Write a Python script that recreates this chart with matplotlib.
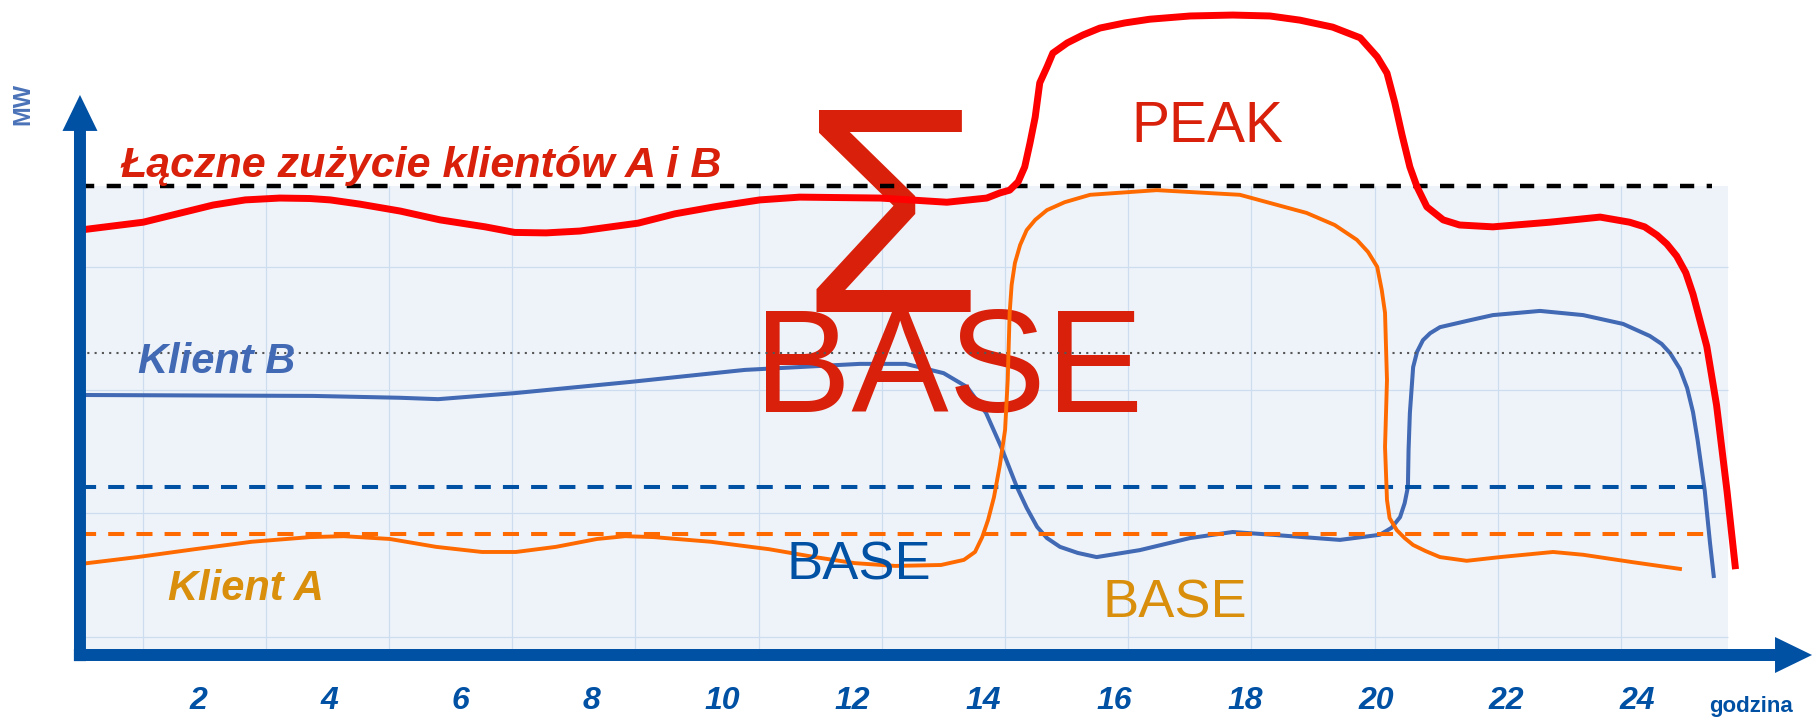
import matplotlib
matplotlib.use('Agg')
import matplotlib.pyplot as plt
import numpy as np
from matplotlib import font_manager
from matplotlib.patches import Rectangle, FancyArrow

# values: hour of day / MW
red_h = [0.18, 1.15, 2.22, 2.71, 3.24, 3.70, 4.01, 4.46, 5.08, 5.69, 6.38, 6.83, 7.31, 7.83,
         8.72, 9.28, 9.88, 10.58, 11.19, 12.42, 13.44, 14.05, 14.25, 14.40, 14.53, 14.63,
         14.71, 14.79, 14.86, 14.97, 15.06, 15.28, 15.52, 15.78, 16.16, 16.54, 17.16, 17.81,
         18.38, 18.84, 19.34, 19.76, 20.02, 20.17, 20.29, 20.40, 20.52, 20.63, 20.78, 21.03,
         21.28, 21.79, 22.66, 23.43, 23.88, 24.11, 24.30, 24.45, 24.60, 24.74, 24.85, 25.06,
         25.21, 25.37, 25.50]
red_mw = [90.4, 92.1, 95.8, 96.9, 97.3, 97.2, 96.9, 96.0, 94.5, 92.6, 91.1, 89.9, 89.8, 90.2,
          91.9, 93.9, 95.4, 96.9, 97.5, 97.3, 96.4, 97.3, 98.4, 99.0, 100.8, 104.0,
          109.1, 114.7, 122.1, 125.5, 128.5, 130.7, 132.4, 133.9, 135.0, 135.8, 136.5, 136.7,
          136.5, 135.6, 134.1, 131.8, 127.7, 124.2, 117.8, 110.9, 104.0, 99.7, 95.4, 92.6,
          91.5, 91.1, 92.1, 93.2, 92.1, 91.1, 89.3, 87.4, 84.8, 81.2, 76.6, 65.4,
          52.7, 34.2, 17.4]

blue_h = [0.18, 3.75, 5.08, 5.66, 6.83, 8.59, 10.35, 12.11, 12.81, 13.39, 13.75, 14.04,
          14.27, 14.51, 14.66, 14.82, 14.97, 15.17, 15.44, 15.73, 16.39, 17.16, 17.81, 18.42,
          19.45, 20.06, 20.24, 20.37, 20.44, 20.49, 20.50, 20.52, 20.57, 20.63, 20.72, 20.83,
          20.98, 21.44, 21.79, 22.51, 23.17, 23.78, 24.19, 24.37, 24.50, 24.65, 24.76, 24.85,
          24.92, 25.03, 25.11, 25.17]
blue_mw = [54.9, 54.7, 54.3, 54.0, 55.3, 57.7, 60.3, 61.6, 61.6, 59.6, 56.6, 51.0,
           43.7, 35.1, 30.6, 26.5, 24.1, 22.2, 20.9, 20.0, 21.5, 24.1, 25.4, 24.8,
           23.7, 24.8, 26.3, 28.6, 31.6, 35.1, 43.1, 51.0, 60.9, 64.2, 66.7, 68.2,
           69.5, 71.0, 72.1, 73.0, 72.1, 70.2, 67.6, 65.9, 63.9, 60.5, 56.4, 51.2,
           45.2, 34.2, 23.0, 15.5]

orange_h = [0.18, 1.06, 1.94, 2.81, 3.70, 4.22, 4.92, 5.63, 6.33, 6.85, 7.46, 8.09,
            8.52, 8.96, 9.83, 10.72, 11.42, 12.03, 12.65, 13.35, 13.70,
            13.87, 13.98, 14.07, 14.16, 14.25, 14.33, 14.37, 14.40, 14.43, 14.48, 14.56,
            14.66, 14.79, 14.97, 15.24, 15.63, 16.65, 17.92, 18.94, 19.37, 19.71, 19.88, 20.02,
            20.09, 20.14, 20.17, 20.14, 20.17, 20.21, 20.32, 20.44, 20.57, 20.76, 20.98, 21.39,
            21.90, 22.71, 23.17, 23.93, 24.68]
orange_mw = [18.5, 20.0, 21.7, 23.3, 24.3, 24.5, 23.9, 22.2, 21.1, 21.1, 22.2, 23.9,
             24.5, 24.3, 23.3, 21.7, 20.0, 18.7, 18.1, 18.3, 19.4,
             21.1, 24.3, 28.0, 32.9, 39.8, 47.4, 58.1, 72.6, 78.6, 83.3, 87.2,
             90.4, 92.6, 94.7, 96.4, 98.0, 99.0, 98.0, 94.1, 91.5, 88.3, 85.7, 82.5,
             77.5, 72.6, 58.1, 43.7, 32.3, 28.4, 25.8, 24.1, 22.6, 21.3, 20.0, 19.2,
             20.0, 21.1, 20.5, 18.9, 17.4]

total_level = 100
dotted_level = 64
base_b_level = 35
base_a_level = 25
hour_ticks = [2, 4, 6, 8, 10, 12, 14, 16, 18, 20, 22, 24]

plt.rcParams['font.family'] = ['Liberation Sans', 'DejaVu Sans']
names = {f.name for f in font_manager.fontManager.ttflist}
narrow = 'Liberation Sans Narrow' if 'Liberation Sans Narrow' in names else 'Liberation Sans'

axis_blue = '#0050a4'
red_txt = '#d9200a'
gold = '#d98f0b'
blue_line = '#4169b4'
orange = '#ff6a00'

fig = plt.figure(figsize=(18.14, 7.21), dpi=100)
ax = fig.add_axes([0, 0, 1, 1])
ax.set_xlim(-1.04, 26.70)
ax.set_ylim(-15.29, 139.94)
ax.axis('off')

# shaded background with light grid
ax.add_patch(Rectangle((0.18, 0), 25.2, 100, facecolor='#eef3fa', edgecolor='none', zorder=0))
ax.vlines(np.arange(1.14, 25.3, 1.884), 0, 100, color='#cddcef', lw=0.9, zorder=1)
ax.hlines([2.8, 29.5, 56.0, 82.5], 0.18, 25.38, color='#cddcef', lw=0.9, zorder=1)

# reference levels
ax.hlines(total_level, 0.18, 25.14, color='black', lw=3.2, linestyles=(0, (3.2, 2.8)), zorder=4)
ax.hlines(dotted_level, 0.18, 25.1, color='#555555', lw=1.5, linestyles=(0, (1, 2.5)), zorder=4)
ax.hlines(base_b_level, 0.18, 25.14, color=axis_blue, lw=2.9, linestyles=(0, (4, 3)), zorder=4)
ax.hlines(base_a_level, 0.18, 25.14, color=orange, lw=2.9, linestyles=(0, (4, 3)), zorder=4)

# big labels
ax.text(12.58, 72.8, 'Σ', fontsize=211, family=narrow, color=red_txt, ha='center', va='baseline', zorder=3)
ax.text(13.47, 51.2, 'BASE', fontsize=105, color=red_txt, ha='center', va='baseline', zorder=3)

# curves
ax.plot(blue_h, blue_mw, color=blue_line, lw=2.9, solid_joinstyle='round', solid_capstyle='butt', zorder=2.5)
ax.plot(orange_h, orange_mw, color=orange, lw=2.8, solid_joinstyle='round', solid_capstyle='butt', zorder=5)
ax.plot(red_h, red_mw, color='#ff0000', lw=5, solid_joinstyle='round', solid_capstyle='butt', zorder=6)

# annotations
ax.text(0.795, 101.8, 'Łączne zużycie klientów A i B', fontsize=31, fontweight='bold',
        fontstyle='italic', color=red_txt, ha='left', va='baseline', zorder=7)
ax.text(2.28, 59.6, 'Klient B', fontsize=30, fontweight='bold', fontstyle='italic',
        color=blue_line, ha='center', va='baseline', zorder=7)
ax.text(2.72, 10.8, 'Klient A', fontsize=30, fontweight='bold', fontstyle='italic',
        color=gold, ha='center', va='baseline', zorder=7)
ax.text(12.09, 15.1, 'BASE', fontsize=39, color=axis_blue, ha='center', va='baseline', zorder=7)
ax.text(16.93, 7.1, 'BASE', fontsize=39, color=gold, ha='center', va='baseline', zorder=7)
ax.text(17.43, 109.4, 'PEAK', fontsize=41, color=red_txt, ha='center', va='baseline', zorder=7)

# axes as arrows
ax.add_patch(FancyArrow(0.183, -2.4, 0, 121.9, width=0.183, head_width=0.535, head_length=7.75,
                        length_includes_head=True, color=axis_blue, lw=0, zorder=8))
ax.add_patch(FancyArrow(0.09, -1.08, 26.58, 0, width=2.58, head_width=7.75, head_length=0.566,
                        length_includes_head=True, color=axis_blue, lw=0, zorder=8))

for h in hour_ticks:
    ax.text(h, -11.0, str(h), fontsize=23, fontweight='bold', fontstyle='italic',
            color=axis_blue, ha='center', va='center')
ax.text(25.73, -13.3, 'godzina', fontsize=16, fontweight='bold', color=axis_blue,
        ha='center', va='baseline')
ax.text(-0.69, 117.5, 'MW', fontsize=17, fontweight='bold', color='#4a72b8',
        rotation=90, ha='center', va='center')

fig.savefig('out.png', dpi=100)
